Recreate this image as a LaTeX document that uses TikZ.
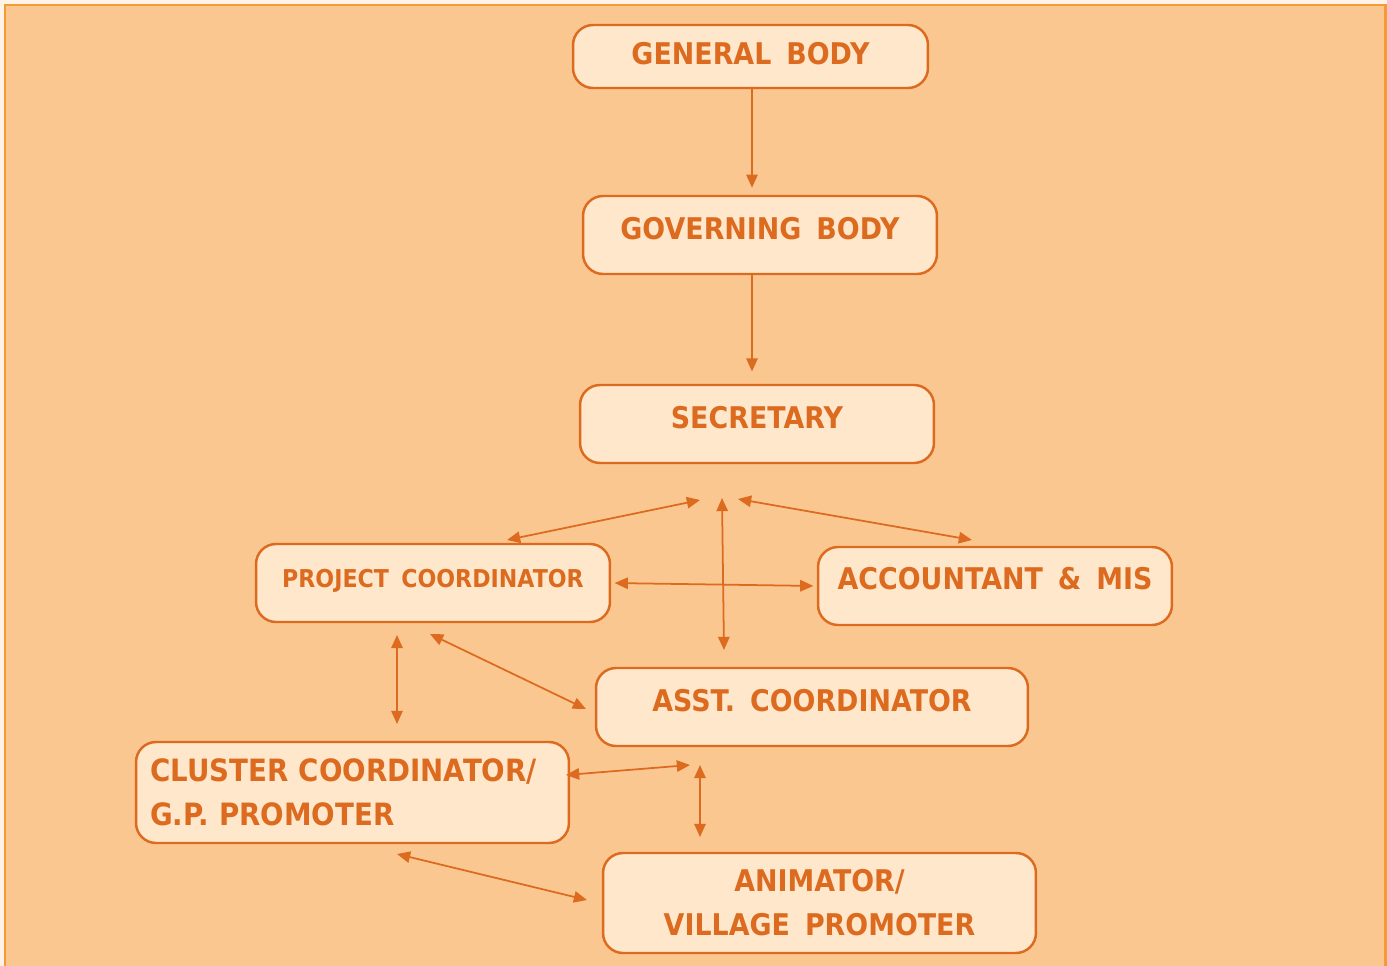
\documentclass[tikz,border=0pt]{standalone}
\usepackage{fontspec}
\setmainfont{DejaVu Sans}[FakeStretch=0.9, WordSpace=1.6]
\usetikzlibrary{arrows.meta, positioning}
\definecolor{pagecream}{HTML}{FEF3E6}
\definecolor{frameorange}{HTML}{F79A35}
\definecolor{panelorange}{HTML}{FAC791}
\definecolor{boxcream}{HTML}{FFE7CC}
\definecolor{rustorange}{HTML}{DC6B1F}

\begin{document}
\begin{tikzpicture}[x=0.02cm, y=-0.02cm,
  orgbox/.style={rectangle, rounded corners=0.4cm, draw=rustorange, line width=1.4pt, fill=boxcream, text=rustorange, font=\bfseries\fontsize{17}{25}\selectfont, minimum height=1.56cm, inner sep=0pt},
  lift/.style={text height=0.44cm, text depth=#1},
  link/.style={draw=rustorange, line width=1pt, -{Triangle[length=7.5pt,width=6.5pt]}},
  twoway/.style={draw=rustorange, line width=1pt, {Triangle[length=7.5pt,width=6.5pt]}-{Triangle[length=7.5pt,width=6.5pt]}}]
% Page and panel
\clip (0,0) rectangle (1387,966);
\fill[pagecream] (0,0) rectangle (1387,966);
\draw[frameorange, line width=1.7pt, fill=panelorange] (5,5) rectangle (1385,990);

% Top of the chain
\node[orgbox, lift=0.1cm, minimum width=7.1cm, minimum height=1.26cm] (genbody) at (750.5,56.5) {GENERAL BODY};
\node[orgbox, lift=0.26cm, minimum width=7.08cm] (govbody) at (760,235) {GOVERNING BODY};
\node[orgbox, lift=0.26cm, minimum width=7.08cm] (secretary) at (757,424) {SECRETARY};

% Staff level
\node[orgbox, minimum width=7.08cm, font=\bfseries\fontsize{14}{20}\selectfont, text height=0.36cm, text depth=0.2cm] (projcoord) at (433,583) {PROJECT COORDINATOR};
\node[orgbox, lift=0.3cm, minimum width=7.08cm] (accounts) at (995,586) {ACCOUNTANT \& MIS};
\node[orgbox, lift=0.26cm, minimum width=8.64cm] (asstcoord) at (812,707) {ASST. COORDINATOR};

% Field level
\node[orgbox, minimum width=8.66cm, minimum height=2.02cm, text width=8.1cm, align=left, font=\bfseries\fontsize{17.5}{25}\selectfont] (cluster) at (352.5,792.5) {CLUSTER COORDINATOR/\\G.P. PROMOTER};
\node[orgbox, minimum width=8.66cm, minimum height=2cm, align=center] (animator) at (819.5,903) {ANIMATOR/\\VILLAGE PROMOTER};

% Free ends of the links
\coordinate (pcup) at (507,540);
\coordinate (hubleft) at (700,500);
\coordinate (hubtop) at (722,498);
\coordinate (hubbottom) at (724,650);
\coordinate (hubright) at (738,499);
\coordinate (accup) at (972,540);
\coordinate (pcdown) at (397,635);
\coordinate (clusterup) at (397,724);
\coordinate (pcslant) at (430,634);
\coordinate (asstin) at (586,709);
\coordinate (clusterout) at (566,775);
\coordinate (asstlow) at (690,765);
\coordinate (animtop) at (700,765);
\coordinate (animup) at (700,837);
\coordinate (clusterlow) at (397,854);
\coordinate (animin) at (587,900);

% Draw connections
\draw[link, shorten >=4pt] (genbody.south -| 752,0) -- (752,0 |- govbody.north);
\draw[link, shorten >=7pt] (govbody.south -| 752,0) -- (752,0 |- secretary.north);
\draw[twoway] (pcup) -- (hubleft);
\draw[twoway] (hubtop) -- (hubbottom);
\draw[twoway] (hubright) -- (accup);
\draw[twoway, shorten <=2pt, shorten >=2pt] (projcoord.east) -- (accounts.west);
\draw[twoway] (pcdown) -- (clusterup);
\draw[twoway] (pcslant) -- (asstin);
\draw[twoway] (clusterout) -- (asstlow);
\draw[twoway] (animtop) -- (animup);
\draw[twoway] (clusterlow) -- (animin);
\end{tikzpicture}
\end{document}
